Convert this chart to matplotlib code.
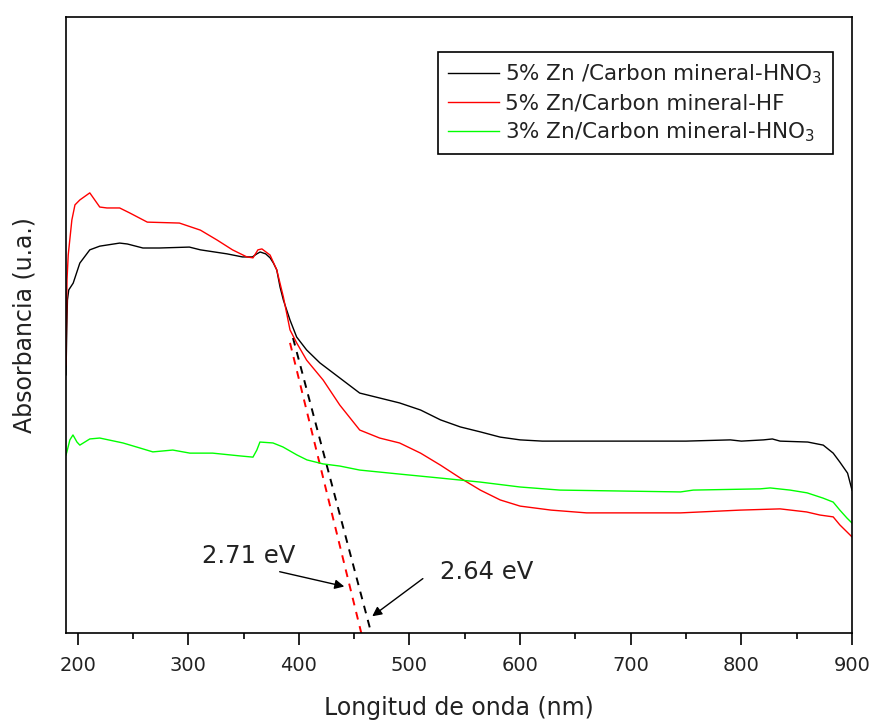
import matplotlib
matplotlib.use('Agg')
import matplotlib.pyplot as plt
from matplotlib.ticker import MultipleLocator

# datos (absorbancia en u.a.)
wl_hno3_5 = [189.5, 190.2, 190.8, 192, 196, 202, 211, 220, 238, 245, 259, 274, 301, 311, 335, 349,
             358, 362, 365, 370, 374, 377, 380, 383, 386, 392, 398, 407, 419, 437, 455, 473, 491,
             510, 528, 546, 564, 582, 600, 620, 650, 700, 750, 790, 800, 820, 828, 835, 860, 874,
             883, 889, 896, 900]
abs_hno3_5 = [0.838, 0.984, 1.081, 1.114, 1.136, 1.201, 1.244, 1.256, 1.266, 1.263, 1.250, 1.250,
              1.253, 1.244, 1.231, 1.221, 1.221, 1.231, 1.237, 1.231, 1.218, 1.201, 1.179, 1.123,
              1.081, 1.016, 0.961, 0.919, 0.877, 0.828, 0.779, 0.763, 0.747, 0.724, 0.692, 0.669,
              0.653, 0.636, 0.627, 0.623, 0.623, 0.623, 0.623, 0.627, 0.623, 0.627, 0.630, 0.623,
              0.620, 0.610, 0.584, 0.555, 0.519, 0.464]

wl_hf_5 = [189.5, 190.4, 191.5, 194.8, 197.6, 202, 211, 220, 226.5, 238, 247, 263, 292, 311, 326,
           340, 353, 358.5, 363, 366.6, 374, 380, 386, 392, 398, 407, 422, 437, 455, 473, 491, 510,
           528, 546, 564, 582, 600, 628, 660, 700, 745, 799, 835, 859, 871, 883, 889, 895.5, 900]
abs_hf_5 = [0.870, 1.146, 1.227, 1.341, 1.390, 1.406, 1.429, 1.383, 1.380, 1.380, 1.364, 1.334,
            1.331, 1.308, 1.276, 1.244, 1.221, 1.218, 1.244, 1.247, 1.227, 1.179, 1.091, 0.984,
            0.942, 0.886, 0.821, 0.740, 0.659, 0.633, 0.617, 0.584, 0.545, 0.503, 0.464, 0.432,
            0.412, 0.399, 0.390, 0.390, 0.390, 0.399, 0.403, 0.393, 0.383, 0.377, 0.351, 0.328,
            0.312]

wl_hno3_3 = [189.5, 190.3, 193, 195.8, 199.4, 202, 211, 220, 241, 256, 268, 286, 301.5, 322, 346.6,
             358.5, 362, 364.8, 376.6, 385.6, 398.3, 407.3, 421.8, 437.1, 455, 491, 528, 564, 600,
             636, 745, 756.5, 817, 826, 844, 859.4, 873.8, 883, 889, 895.5, 900]
abs_hno3_3 = [0.578, 0.588, 0.627, 0.643, 0.620, 0.610, 0.630, 0.633, 0.617, 0.601, 0.588, 0.594,
              0.584, 0.584, 0.575, 0.571, 0.594, 0.620, 0.617, 0.604, 0.578, 0.562, 0.549, 0.542,
              0.529, 0.516, 0.503, 0.490, 0.474, 0.464, 0.458, 0.464, 0.468, 0.471, 0.464, 0.455,
              0.438, 0.425, 0.399, 0.373, 0.357]

# tangentes para el band gap
tan_hno3_wl = [394.7, 465.4]
tan_hno3_abs = [0.958, 0.0]
tan_hf_wl = [392.0, 456.4]
tan_hf_abs = [0.942, 0.0]

labels = ['5% Zn /Carbon mineral-HNO$_3$', '5% Zn/Carbon mineral-HF', '3% Zn/Carbon mineral-HNO$_3$']
xticks = [200, 300, 400, 500, 600, 700, 800, 900]

fig = plt.figure(figsize=(8.72, 7.2), dpi=100)
ax = fig.add_axes([66 / 872, 1 - 633 / 720, 786 / 872, 616 / 720])

ax.plot(tan_hf_wl, tan_hf_abs, color='red', lw=1.4, dashes=(4, 3.5), zorder=1)
ax.plot(tan_hno3_wl, tan_hno3_abs, color='black', lw=1.4, dashes=(4, 3.5), zorder=1)

ax.plot(wl_hno3_5, abs_hno3_5, color='black', lw=1.0, label=labels[0])
ax.plot(wl_hf_5, abs_hf_5, color='red', lw=1.0, label=labels[1])
ax.plot(wl_hno3_3, abs_hno3_3, color='#00ff00', lw=1.0, label=labels[2])

ax.set_xlim(189.5, 900)
ax.set_ylim(0, 2.0)
ax.set_xticks(xticks)
ax.xaxis.set_minor_locator(MultipleLocator(50))
ax.set_yticks([])
ax.tick_params(axis='x', which='major', direction='out', length=8.5, width=1.2,
               labelsize=14, pad=8, labelcolor='#222222')
ax.tick_params(axis='x', which='minor', direction='out', length=4.3, width=1.2)
for s in ax.spines.values():
    s.set_linewidth(1.2)

ax.set_xlabel('Longitud de onda (nm)', fontsize=17, labelpad=15, color='#222222')
ax.set_ylabel('Absorbancia (u.a.)', fontsize=17, labelpad=21, color='#222222')

# flechas con los valores del band gap
ax.text(312.4, 0.25, '2.71 eV', fontsize=17.5, va='center', ha='left', color='#222222')
ax.annotate('', xy=(443.5, 0.149), xytext=(380.2, 0.201),
            arrowprops=dict(arrowstyle='-|>', color='black', lw=1.0, mutation_scale=14))
ax.text(527.6, 0.198, '2.64 eV', fontsize=17.5, va='center', ha='left', color='#222222')
ax.annotate('', xy=(464.3, 0.049), xytext=(514.1, 0.182),
            arrowprops=dict(arrowstyle='-|>', color='black', lw=1.0, mutation_scale=14))

leg = ax.legend(loc='upper right', bbox_to_anchor=(0.9758, 0.9432), borderaxespad=0,
                fontsize=15.5, handlelength=2.35, handletextpad=0.3, borderpad=0.5,
                labelspacing=0.32, fancybox=False, framealpha=1)
leg.get_frame().set_edgecolor('black')
leg.get_frame().set_linewidth(1.2)
for t in leg.get_texts():
    t.set_color('#222222')

fig.savefig('out.png', dpi=100)
